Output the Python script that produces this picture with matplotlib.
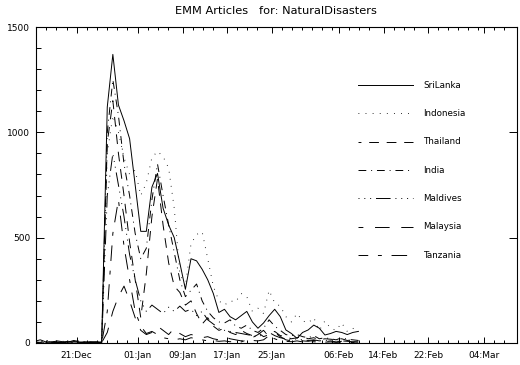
import numpy as np
import pandas as pd
import matplotlib
matplotlib.use('Agg')
import matplotlib.pyplot as plt
import matplotlib.dates as mdates
from matplotlib.ticker import MultipleLocator

# 各国の記事数 (2004-12-13 から 2005-02-09 まで、1日ごと)
countries = ['SriLanka', 'Indonesia', 'Thailand', 'India', 'Maldives', 'Malaysia', 'Tanzania']

srilanka = [8, 15, 5, 3, 10, 6, 4, 12, 5, 3, 6, 4,
            5, 1120, 1370, 1130, 1055, 970, 750, 530, 530, 740, 805, 640, 560, 500, 380, 255,
            400, 390, 350, 300, 235, 145, 160, 125, 110, 130, 150, 100, 70, 95, 130, 160,
            125, 62, 45, 22, 50, 62, 85, 70, 38, 45, 55, 50, 40, 50, 55]
indonesia = [3, 6, 10, 4, 2, 8, 5, 3, 9, 4, 2, 5,
             5, 900, 1080, 1000, 880, 800, 820, 700, 760, 880, 910, 885, 830, 640, 330, 270,
             470, 515, 528, 400, 270, 200, 180, 200, 195, 235, 220, 150, 165, 140, 250, 190,
             175, 125, 100, 140, 105, 95, 120, 60, 105, 70, 60, 95, 55, 70, 50]
thailand = [2, 4, 3, 6, 2, 3, 8, 4, 2, 5, 3, 2,
            3, 950, 1150, 900, 700, 480, 300, 120, 330, 600, 780, 560, 380, 270, 240, 180,
            200, 140, 90, 120, 80, 60, 70, 50, 40, 60, 45, 35, 50, 30, 40, 55,
            35, 30, 20, 25, 30, 20, 25, 15, 20, 18, 15, 20, 12, 15, 10]
india = [5, 3, 12, 6, 3, 4, 2, 7, 10, 3, 4, 6,
         3, 1000, 1250, 1080, 850, 700, 520, 400, 450, 680, 850, 700, 560, 430, 300, 220,
         250, 280, 200, 150, 120, 100, 95, 110, 80, 70, 85, 60, 50, 70, 110, 80,
         60, 40, 35, 40, 30, 25, 35, 20, 25, 20, 15, 25, 18, 15, 12]
maldives = [1, 2, 1, 3, 1, 2, 4, 1, 2, 1, 3, 1,
            2, 700, 900, 750, 600, 420, 300, 200, 150, 180, 160, 140, 170, 150, 175, 150,
            160, 130, 150, 110, 90, 70, 60, 55, 50, 45, 40, 35, 30, 40, 50, 35,
            25, 20, 15, 20, 15, 12, 15, 10, 12, 10, 8, 10, 8, 6, 5]
malaysia = [2, 1, 3, 2, 5, 1, 2, 3, 1, 4, 2, 1,
            2, 50, 150, 220, 270, 200, 120, 60, 40, 50, 80, 60, 40, 70, 45, 30,
            40, 35, 25, 30, 20, 15, 30, 20, 15, 10, 20, 12, 10, 15, 35, 50,
            30, 15, 10, 15, 10, 8, 12, 8, 6, 10, 5, 8, 6, 5, 4]
tanzania = [1, 0, 2, 1, 0, 3, 1, 0, 1, 2, 0, 1,
            0, 150, 520, 680, 460, 300, 150, 80, 45, 55, 40, 25, 20, 15, 20, 15,
            25, 20, 15, 10, 12, 8, 10, 6, 8, 5, 15, 25, 40, 60, 30, 20,
            10, 8, 6, 10, 5, 4, 6, 3, 4, 5, 3, 4, 3, 2, 2]

dates = pd.date_range('2004-12-13 12:00', periods=len(srilanka), freq='D')

tick_dates = pd.to_datetime(['2004-12-21', '2005-01-01', '2005-01-09', '2005-01-17',
                             '2005-01-25', '2005-02-06', '2005-02-14', '2005-02-22',
                             '2005-03-04'])
tick_labels = ['21:Dec', '01:Jan', '09:Jan', '17:Jan', '25:Jan', '06:Feb', '14:Feb',
               '22:Feb', '04:Mar']

series = [srilanka, indonesia, thailand, india, maldives, malaysia, tanzania]
styles = ['-',
          (0, (0.8, 6.5)),
          (7, (10, 8)),
          (0, (8, 5, 1, 5)),
          (20, (15, 5, 1, 5, 1, 5, 1, 5)),
          (10, (15, 12)),
          (6, (16, 10, 4, 10))]

plt.rcParams['font.family'] = ['DejaVu Sans']

fig = plt.figure(figsize=(5.2, 3.65), dpi=100)
ax = fig.add_axes([0.069, 0.0603, 0.925, 0.8657])

for name, vals, ls in zip(countries, series, styles):
    ax.plot(dates, vals, color='black', lw=0.7, linestyle=ls)

xmin = pd.Timestamp('2004-12-13 17:00')
xmax = pd.Timestamp('2005-03-09 21:30')
ax.set_ylim(0, 1500)
ax.set_xlim(xmin, xmax)

# 日付の目盛り
ax.set_xticks(tick_dates)
ax.set_xticklabels(tick_labels)
major = mdates.date2num(tick_dates)
minor = []
edges = np.concatenate([major, [mdates.date2num(xmax)]])
for a, b in zip(edges[:-1], edges[1:]):
    t = a + 1.8
    while t < b - 0.9:
        minor.append(t)
        t += 1.8
t = major[0] - 1.8
while t > mdates.date2num(xmin):
    minor.append(t)
    t -= 1.8
ax.set_xticks(minor, minor=True)

ax.set_yticks([0, 500, 1000, 1500])
ax.yaxis.set_minor_locator(MultipleLocator(100))

ax.tick_params(axis='x', which='major', direction='in', length=4.3, width=0.7,
               top=True, bottom=True, labelsize=6.5, pad=6)
ax.tick_params(axis='x', which='minor', direction='in', length=2.2, width=0.7,
               top=True, bottom=True)
ax.tick_params(axis='y', which='major', direction='in', length=5.8, width=0.7,
               left=True, right=True, labelsize=6.5, pad=4)
ax.tick_params(axis='y', which='minor', direction='in', length=3.6, width=0.7,
               left=True, right=False)
for s in ax.spines.values():
    s.set_linewidth(0.8)

ax.set_title('EMM Articles   for: NaturalDisasters', fontsize=8.2, pad=9.5)

# 凡例 (右上に並べる)
for i, (name, ls) in enumerate(zip(countries, styles)):
    y = 0.816 - 0.0896 * i
    ax.plot([0.669, 0.784], [y, y], transform=ax.transAxes, color='black', lw=0.7,
            linestyle=ls)
    ax.text(0.805, y, name, transform=ax.transAxes, fontsize=6.3, va='center', ha='left')

fig.savefig('out.png', dpi=100)
